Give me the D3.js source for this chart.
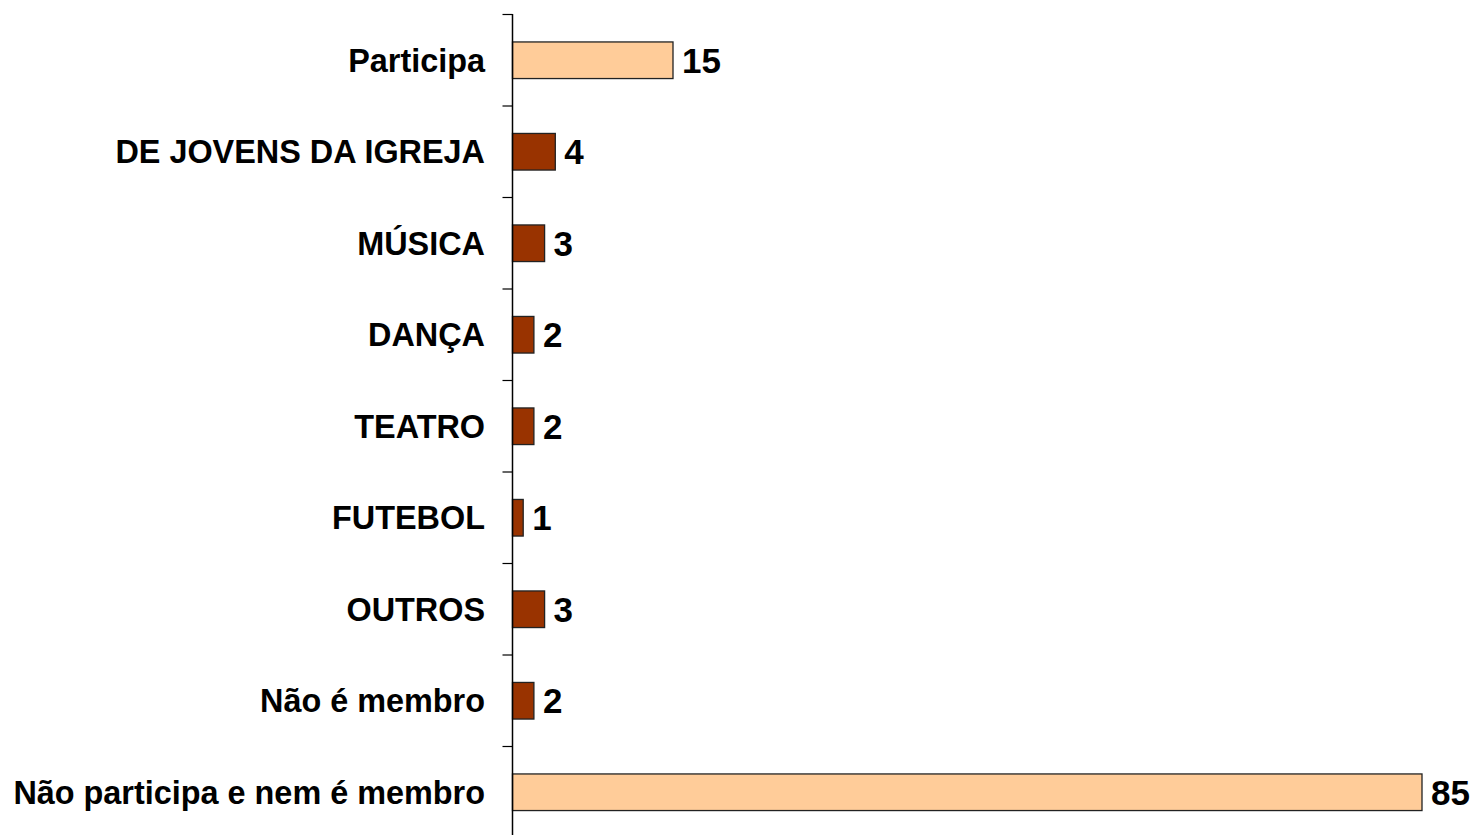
<!DOCTYPE html>
<html>
<head>
<meta charset="utf-8">
<script src="https://cdn.jsdelivr.net/npm/d3@7"></script>
<style>
  body { margin: 0; background: #fff; }
  svg text { font-family: Arial, "Liberation Sans", sans-serif; font-weight: bold; fill: #000; }
</style>
</head>
<body>
<svg id="chart" width="1473" height="835"></svg>
<script>
var categories = ["Participa", "DE JOVENS DA IGREJA", "MÚSICA", "DANÇA", "TEATRO", "FUTEBOL", "OUTROS", "Não é membro", "Não participa e nem é membro"];
var values = [15, 4, 3, 2, 2, 1, 3, 2, 85];
var colors = ["#FFCC99", "#993300", "#993300", "#993300", "#993300", "#993300", "#993300", "#993300", "#FFCC99"];

var svg = d3.select("#chart");
var x0 = 512.5;

var x = d3.scaleLinear().domain([0, 85]).range([x0, 1422]);
var y = d3.scaleBand().domain(categories).range([14.5, 838]).paddingInner(0.6).paddingOuter(0.3);
var step = y.step();
var pad = step * 0.3;

// bars
svg.selectAll("rect.bar").data(categories).enter().append("rect")
  .attr("class", "bar")
  .attr("x", x(0))
  .attr("y", function(d) { return y(d); })
  .attr("width", function(d, i) { return x(values[i]) - x(0); })
  .attr("height", y.bandwidth())
  .attr("fill", function(d, i) { return colors[i]; })
  .attr("stroke", "#222")
  .attr("stroke-width", 1.3);

// value labels
svg.selectAll("text.val").data(categories).enter().append("text")
  .attr("class", "val")
  .attr("x", function(d, i) { return x(values[i]) + 9; })
  .attr("y", function(d) { return y(d) + y.bandwidth() / 2; })
  .attr("dy", "0.36em")
  .style("font-size", "35px")
  .text(function(d, i) { return values[i]; });

// axis line
svg.append("line")
  .attr("x1", x0).attr("x2", x0)
  .attr("y1", 14).attr("y2", 835)
  .attr("stroke", "#000").attr("stroke-width", 1.5);

// tick marks between categories
svg.selectAll("line.tick").data(categories).enter().append("line")
  .attr("class", "tick")
  .attr("x1", x0 - 10).attr("x2", x0)
  .attr("y1", function(d) { return y(d) - pad; })
  .attr("y2", function(d) { return y(d) - pad; })
  .attr("stroke", "#000").attr("stroke-width", 1.2);

// category labels
svg.selectAll("text.cat").data(categories).enter().append("text")
  .attr("class", "cat")
  .attr("x", 485)
  .attr("y", function(d) { return y(d) + y.bandwidth() / 2; })
  .attr("dy", "0.36em")
  .attr("text-anchor", "end")
  .style("font-size", "32.4px")
  .text(function(d) { return d; });
</script>
</body>
</html>
